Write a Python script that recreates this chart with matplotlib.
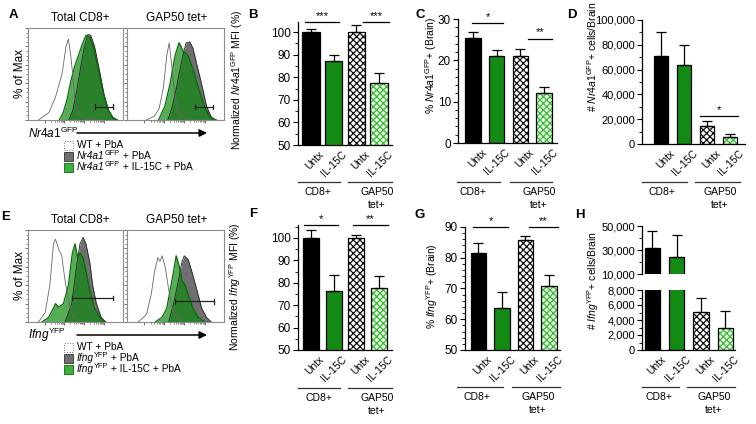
import matplotlib
matplotlib.use("Agg")
import matplotlib.pyplot as plt
import matplotlib.transforms as mtransforms
from matplotlib.lines import Line2D
from matplotlib.patches import Rectangle
from matplotlib.text import Annotation
from matplotlib.ticker import MultipleLocator, FuncFormatter
import numpy as np

plt.rcParams['font.family'] = ['Liberation Sans', 'DejaVu Sans']
plt.rcParams['mathtext.fontset'] = 'custom'
plt.rcParams['mathtext.rm'] = 'Liberation Sans'
plt.rcParams['mathtext.it'] = 'Liberation Sans:italic'
plt.rcParams['hatch.linewidth'] = 0.9

# ---- data ----
bar_labels = ['Untx', 'IL-15C', 'Untx', 'IL-15C']

b_mean = [100, 87, 100, 77.5]
b_err = [1.5, 3, 3, 4.5]
c_mean = [25.4, 21.1, 21.0, 12.2]
c_err = [1.5, 1.3, 1.7, 1.3]
d_mean = [71000, 64000, 14800, 5900]
d_err = [19000, 16000, 4000, 2100]
f_mean = [100, 76.3, 100, 77.7]
f_err = [3.4, 7.1, 1.5, 5.3]
g_mean = [81.6, 63.8, 85.7, 70.8]
g_err = [3.2, 5.1, 1.4, 3.7]
h_mean = [32000, 24000, 5100, 3000]
h_err = [14000, 18500, 1800, 2200]

# histogram outlines, x = % of axis width, y = % of max
a1_wt_x = [11, 22, 29, 36, 40, 42.5, 45, 47, 49.5, 53, 60, 74]
a1_wt_y = [0, 8, 25, 51, 80, 88, 70, 50, 22, 8, 2, 0]
a1_gr_x = [43, 47, 51, 55, 59, 63, 66, 70, 75, 80, 85, 90, 94]
a1_gr_y = [0, 10, 30, 55, 78, 93, 92, 80, 55, 28, 10, 2, 0]
a1_il_x = [33, 37, 41, 45, 49, 53, 57, 61, 65, 69, 74, 79, 84, 89, 94]
a1_il_y = [0, 8, 22, 42, 58, 70, 82, 92, 90, 78, 55, 30, 12, 3, 0]

a2_wt_x = [20, 28, 33, 37.5, 41, 43.5, 46, 49.5, 53, 58, 64]
a2_wt_y = [0, 4, 12, 35, 70, 84, 60, 25, 8, 2, 0]
a2_gr_x = [42, 46, 50, 54, 58, 61, 64.7, 68, 71.6, 76.7, 82, 87, 92.5]
a2_gr_y = [0, 12, 30, 52, 72, 84, 85, 78, 62, 40, 15, 3, 0]
a2_il_x = [32.5, 39, 44.5, 49.5, 53.7, 58, 63, 68, 73.6, 78.8, 84, 89]
a2_il_y = [0, 15, 40, 70, 84, 75, 70, 55, 35, 18, 5, 0]

e1_wt_x = [11, 18, 23, 26.8, 29, 32, 35.5, 39, 42.5, 46, 51, 58]
e1_wt_y = [0, 10, 40, 85, 90, 80, 72, 45, 25, 10, 3, 0]
e1_gr_x = [39, 46, 51, 54.7, 58, 61, 65, 68, 72, 77, 82]
e1_gr_y = [0, 20, 60, 85, 92, 85, 65, 40, 20, 5, 0]
e1_il_x = [14.6, 21.6, 26.8, 29, 32, 37.3, 42.5, 46.7, 49.5, 52.3, 54.7, 58, 61, 65, 70, 75.6, 80.8]
e1_il_y = [0, 5, 15, 20, 16, 20, 40, 75, 85, 70, 75, 70, 55, 35, 15, 5, 0]

e2_wt_x = [11.6, 20, 25, 28.4, 31.8, 34, 36.3, 39.7, 43, 46.6, 51.7, 56.8]
e2_wt_y = [0, 8, 30, 55, 70, 66, 72, 58, 35, 15, 4, 0]
e2_gr_x = [43, 48, 53, 56.5, 59, 63, 66.8, 72, 77, 82, 87]
e2_gr_y = [0, 20, 45, 65, 72, 68, 55, 35, 15, 5, 0]
e2_il_x = [29, 36, 41, 44.5, 48, 50.7, 54, 56.5, 60, 63, 68, 73.3, 80]
e2_il_y = [0, 5, 15, 35, 55, 72, 60, 45, 40, 30, 15, 5, 0]

GREEN = '#138a13'
LGREEN = '#e6f7df'
HGREEN = '#3db83d'
GRAY = '#6f6f6f'

W, H = 756, 424
fig = plt.figure(figsize=(7.56, 4.24), dpi=100)


def px_axes(l, t, r, b):
    return fig.add_axes([l / W, 1 - b / H, (r - l) / W, (b - t) / H])


def ftext(x, y, s, **kw):
    return fig.text(x / W, 1 - y / H, s, **kw)


def fline(x1, x2, y, **kw):
    fig.add_artist(Line2D([x1 / W, x2 / W], [1 - y / H, 1 - y / H],
                          transform=fig.transFigure, **kw))


def gene_text(x, y, name, sup, rest, fs):
    # italic gene name, small raised reporter tag, then plain text
    t1 = ftext(x, y, name, style='italic', ha='left', va='center', fontsize=fs)
    t2 = fig.add_artist(Annotation(sup, xy=(1, 0.42), xycoords=t1, ha='left',
                                   va='bottom', fontsize=fs * 0.72))
    if rest:
        fig.add_artist(Annotation(rest, xy=(1, 0), xycoords=(t2, t1), ha='left',
                                  va='bottom', fontsize=fs))


def hist_panel(ax, wt, gr, il, gate):
    ax.fill_between(gr[0], gr[1], color=GRAY, lw=0)
    ax.fill_between(il[0], il[1], color='#0f8a0f', alpha=0.7, lw=0)
    ax.plot(gr[0], gr[1], color='#222222', lw=0.6)
    ax.plot(il[0], il[1], color='#0a6a0a', lw=0.9)
    ax.plot(wt[0], wt[1], color='#666666', lw=0.6)
    x1, x2, y = gate
    ax.plot([x1, x2], [y, y], color='#222222', lw=0.9)
    ax.plot([x1, x1], [y - 2.5, y + 2.5], color='#222222', lw=0.9)
    ax.plot([x2, x2], [y - 2.5, y + 2.5], color='#222222', lw=0.9)
    ax.set_xlim(0, 100)
    ax.set_ylim(0, 100)
    for s in ax.spines.values():
        s.set_color('#8c8c8c')
        s.set_linewidth(0.8)
    ax.set_yticks(np.arange(0, 101, 20))
    ax.yaxis.set_minor_locator(MultipleLocator(5))
    dec = np.log10(np.arange(1, 10))
    ax.set_xticks([18, 38, 59, 80])
    ax.set_xticks(np.concatenate([18 + 21 * dec, 38 + 21 * dec, 59 + 21 * dec]), minor=True)
    ax.tick_params(which='major', length=2.5, width=0.6, color='#555555',
                   labelleft=False, labelbottom=False)
    ax.tick_params(which='minor', length=1.2, width=0.5, color='#555555')


def bar_panel(ax, means, errs, width, xlim, ylim, major, minor, sigs, fs=8.5, fmt=None):
    x = np.arange(4)
    ax.bar(x[0], means[0], width, color='black', edgecolor='black', lw=0.9)
    ax.bar(x[1], means[1], width, color=GREEN, edgecolor='black', lw=0.9)
    ax.bar(x[2], means[2], width, color='white', edgecolor='#111111', hatch='xxxxx', lw=0)
    ax.bar(x[3], means[3], width, color=LGREEN, edgecolor=HGREEN, hatch='xxxxx', lw=0)
    ax.bar(x[2:], means[2:], width, fill=False, edgecolor='black', lw=0.9)
    ax.errorbar(x, means, yerr=[np.zeros(4), errs], fmt='none', ecolor='black',
                elinewidth=0.9, capsize=3.5, capthick=0.9)
    ax.set_xlim(*xlim)
    ax.set_ylim(*ylim)
    ax.yaxis.set_major_locator(MultipleLocator(major))
    ax.yaxis.set_minor_locator(MultipleLocator(minor))
    if fmt:
        ax.yaxis.set_major_formatter(FuncFormatter(fmt))
    for s in ['top', 'right']:
        ax.spines[s].set_visible(False)
    for s in ['left', 'bottom']:
        ax.spines[s].set_linewidth(0.9)
    ax.tick_params(axis='y', which='major', length=3.5, width=0.8, labelsize=fs, pad=1.5)
    ax.tick_params(axis='y', which='minor', length=2, width=0.6)
    ax.set_xticks(x)
    ax.set_xticklabels(bar_labels, rotation=45, ha='right', rotation_mode='anchor', fontsize=7.5)
    ax.tick_params(axis='x', length=0, pad=3)
    off = mtransforms.ScaledTranslation(6 / 72, 0, fig.dpi_scale_trans)
    for lab in ax.get_xticklabels():
        lab.set_transform(lab.get_transform() + off)
    for x1, x2, y, s in sigs:
        ax.plot([x1, x2], [y, y], color='black', lw=0.9, clip_on=False)
        ax.annotate(s, ((x1 + x2) / 2, y), xytext=(0, 1), textcoords='offset points',
                    ha='center', va='bottom', fontsize=8)


def groups(xa, xb, y, cx1, cx2):
    fline(xa[0], xa[1], y, color='#333333', lw=0.9)
    fline(xb[0], xb[1], y, color='#333333', lw=0.9)
    ftext(cx1, y + 10, 'CD8+', ha='center', va='center', fontsize=7.5)
    ftext(cx2, y + 10, 'GAP50', ha='center', va='center', fontsize=7.5)
    ftext(cx2, y + 23, 'tet+', ha='center', va='center', fontsize=7.5)


def comma(v, pos):
    return f'{v:,.0f}'


# ---- histograms ----
gfp = r'$\mathit{Nr4a1}^{\mathrm{GFP}}$'
yfp = r'$\mathit{Ifng}^{\mathrm{YFP}}$'
for top, bot, data, gates, tag, lab, gene, leg_y in [
        (28, 120, [(a1_wt_x, a1_wt_y, a1_gr_x, a1_gr_y, a1_il_x, a1_il_y),
                   (a2_wt_x, a2_wt_y, a2_gr_x, a2_gr_y, a2_il_x, a2_il_y)],
         [(70, 89, 14.5), (70.5, 89, 14)], 'A', gfp, ('Nr4a1', 'GFP'), 145),
        (230, 322, [(e1_wt_x, e1_wt_y, e1_gr_x, e1_gr_y, e1_il_x, e1_il_y),
                    (e2_wt_x, e2_wt_y, e2_gr_x, e2_gr_y, e2_il_x, e2_il_y)],
         [(46, 89.5, 26), (49.6, 89.7, 22.5)], 'E', yfp, ('Ifng', 'YFP'), 347)]:
    for (l, r), d, gate, title, cx in zip([(28, 123), (127, 224)], data, gates,
                                          ['Total CD8+', 'GAP50 tet+'], [80, 177]):
        ax = px_axes(l, top, r, bot)
        hist_panel(ax, (d[0], d[1]), (d[2], d[3]), (d[4], d[5]), gate)
        ftext(cx, top - 10, title, ha='center', va='center', fontsize=8.5)
    ftext(13 if tag == 'A' else 6, top - 13, tag, ha='center', va='center',
          fontsize=9.5, fontweight='bold')
    ftext(20, (top + bot) / 2, '% of Max', rotation=90, ha='center', va='center', fontsize=8.5)
    ftext(28, bot + 13, lab, ha='left', va='center', fontsize=8.5)
    fig.add_artist(plt.Annotation('', xy=(207 / W, 1 - (bot + 13) / H),
                                  xytext=(77 / W, 1 - (bot + 13) / H),
                                  xycoords='figure fraction', textcoords='figure fraction',
                                  arrowprops=dict(arrowstyle='-|>', lw=1.1, color='black',
                                                  mutation_scale=11, shrinkA=0, shrinkB=0)))
    legend_rows = [('WT + PbA', None, 'white', '#777777', ':'),
                   (' + PbA', gene, GRAY, '#444444', '-'),
                   (' + IL-15C + PbA', gene, '#3fae3f', '#1c7a1c', '-')]
    for i, (txt, g, fc, ec, ls) in enumerate(legend_rows):
        yy = leg_y + i * 11
        fig.add_artist(Rectangle((64 / W, 1 - (yy + 4.5) / H), 8.5 / W, 8.5 / H,
                                 transform=fig.transFigure, facecolor=fc,
                                 edgecolor=ec, lw=0.7, linestyle=ls))
        if g is None:
            ftext(77, yy, txt, ha='left', va='center', fontsize=7.3)
        else:
            gene_text(77, yy, g[0], g[1], txt, 7.3)

# ---- B ----
ax = px_axes(298, 22, 392, 145)
bar_panel(ax, b_mean, b_err, 0.78, (-0.55, 3.55), (50, 104.5), 10, 5,
          [(-0.25, 1.25, 104.5, '***'), (2.3, 3.4, 104.5, '***')])
ftext(253, 15, 'B', ha='center', va='center', fontsize=9.5, fontweight='bold')
ftext(237, 80, r'Normalized ' + gfp + ' MFI (%)', rotation=90, ha='center', va='center', fontsize=7.5)
groups((298, 340), (348, 392), 182, 318, 377)

# ---- C ----
ax = px_axes(458, 19, 557, 143)
bar_panel(ax, c_mean, c_err, 0.64, (-0.63, 3.55), (0, 30), 10, 2,
          [(-0.04, 1.27, 29, '*'), (2.32, 3.33, 25.2, '**')])
ftext(420, 15, 'C', ha='center', va='center', fontsize=9.5, fontweight='bold')
ftext(431, 65, '% ' + gfp + '+ (Brain)', rotation=90, ha='center', va='center', fontsize=7.5)
groups((457, 500), (510, 552), 182, 473, 539)

# ---- D ----
ax = px_axes(642, 20, 745, 144)
bar_panel(ax, d_mean, d_err, 0.62, (-0.83, 3.65), (0, 100000), 20000, 10000,
          [(1.7, 3.35, 22600, '*')], fs=8, fmt=comma)
ftext(572, 15, 'D', ha='center', va='center', fontsize=9.5, fontweight='bold')
ftext(592, 57, '# ' + gfp + '+ cells/Brain', rotation=90, ha='center', va='center', fontsize=7.5)
groups((642, 687), (695, 740), 182, 662, 720)

# ---- F ----
ax = px_axes(298, 225, 392, 350)
bar_panel(ax, f_mean, f_err, 0.7, (-0.55, 3.55), (50, 105.8), 10, 5,
          [(-0.28, 1.2, 105.8, '*'), (1.85, 3.37, 105.8, '**')])
ftext(253, 214, 'F', ha='center', va='center', fontsize=9.5, fontweight='bold')
ftext(235, 287, r'Normalized ' + yfp + ' MFI (%)', rotation=90, ha='center', va='center', fontsize=7.5)
groups((298, 340), (348, 392), 388, 319, 377)

# ---- G ----
ax = px_axes(465, 227, 560, 350)
bar_panel(ax, g_mean, g_err, 0.66, (-0.57, 3.47), (50, 90), 10, 2,
          [(-0.23, 1.26, 90, '*'), (2.15, 3.38, 90, '**')])
ftext(420, 215, 'G', ha='center', va='center', fontsize=9.5, fontweight='bold')
ftext(432, 286, '% ' + yfp + '+ (Brain)', rotation=90, ha='center', va='center', fontsize=7.5)
groups((457, 503), (512, 560), 387, 477, 538)

# ---- H (broken axis) ----
axu = px_axes(642, 226, 735, 274)
axl = px_axes(642, 290, 735, 350)
for a, lim, maj, mnr in [(axu, (10000, 50000), 20000, 10000), (axl, (0, 8000), 2000, 1000)]:
    bar_panel(a, h_mean, h_err, 0.64, (-0.43, 3.4), lim, maj, mnr, [], fs=8, fmt=comma)
axu.spines['bottom'].set_visible(False)
axu.tick_params(axis='x', labelbottom=False)
axu.set_yticks([10000, 30000, 50000])
ftext(580, 215, 'H', ha='center', va='center', fontsize=9.5, fontweight='bold')
ftext(593, 280, '# ' + yfp + '+ cells/Brain', rotation=90, ha='center', va='center', fontsize=7.5)
groups((642, 679), (687, 735), 387, 659, 714)

fig.savefig('out.png', dpi=100)
